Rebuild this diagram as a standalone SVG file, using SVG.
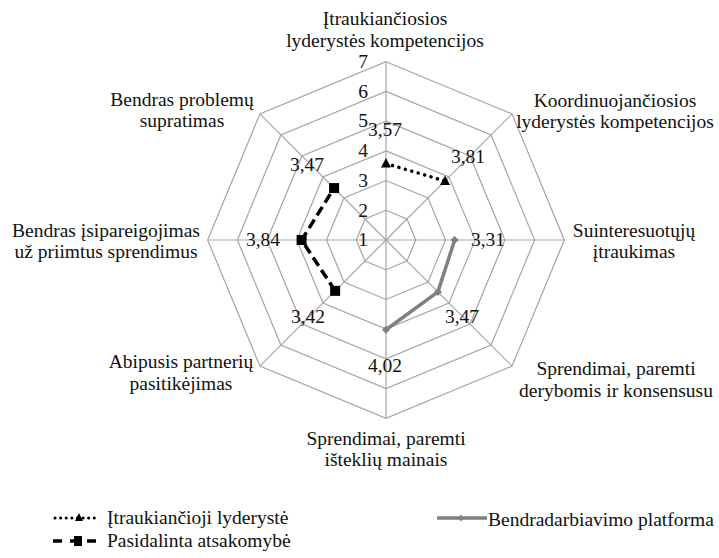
<svg xmlns="http://www.w3.org/2000/svg" width="719" height="558" viewBox="0 0 719 558" font-family="'Times New Roman', 'Liberation Serif', Tinos, 'Noto Serif', 'DejaVu Serif', serif">
  <style>
    text { font-size: 19.5px; fill: #111; }
    .cat { text-anchor: middle; }
    .val { text-anchor: middle; }
    .tick { text-anchor: end; }
    .ring { fill: none; stroke: #a6a6a6; stroke-width: 1.2; }
    .spoke { stroke: #a6a6a6; stroke-width: 1.2; }
    .s-incl { fill: none; stroke: #000; stroke-width: 3.5; stroke-linecap: round; stroke-dasharray: 0.1 6.6; }
    .s-plat { fill: none; stroke: #808080; stroke-width: 3.5; stroke-linejoin: round; }
    .s-resp { fill: none; stroke: #000; stroke-width: 3.5; stroke-dasharray: 10 5; stroke-linejoin: round; }
  </style>
  <defs>
    <path id="tri" d="M0,-6 L5,3.5 L-5,3.5 Z" fill="#000"/>
    <rect id="sq" x="-5" y="-5" width="10" height="10" fill="#000"/>
    <path id="dia" d="M0,-4 L4,0 L0,4 L-4,0 Z" fill="#808080"/>
  </defs>
  <rect width="719" height="558" fill="#fff"/>

  <!-- radar grid: six octagonal rings and eight spokes around (386,240) -->
  <g id="grid">
    <polygon class="ring" points="386,210.28 407.02,218.98 415.72,240 407.02,261.02 386,269.72 364.98,261.02 356.28,240 364.98,218.98"/>
    <polygon class="ring" points="386,180.56 428.03,197.97 445.44,240 428.03,282.03 386,299.44 343.97,282.03 326.56,240 343.97,197.97"/>
    <polygon class="ring" points="386,150.84 449.05,176.95 475.16,240 449.05,303.05 386,329.16 322.95,303.05 296.84,240 322.95,176.95"/>
    <polygon class="ring" points="386,121.12 470.06,155.94 504.88,240 470.06,324.06 386,358.88 301.94,324.06 267.12,240 301.94,155.94"/>
    <polygon class="ring" points="386,91.4 491.08,134.92 534.6,240 491.08,345.08 386,388.6 280.92,345.08 237.4,240 280.92,134.92"/>
    <polygon class="ring" points="386,61.68 512.09,113.91 564.32,240 512.09,366.09 386,418.32 259.91,366.09 207.68,240 259.91,113.91"/>
    <line class="spoke" x1="386" y1="240" x2="386" y2="61.68"/>
    <line class="spoke" x1="386" y1="240" x2="512.09" y2="113.91"/>
    <line class="spoke" x1="386" y1="240" x2="564.32" y2="240"/>
    <line class="spoke" x1="386" y1="240" x2="512.09" y2="366.09"/>
    <line class="spoke" x1="386" y1="240" x2="386" y2="418.32"/>
    <line class="spoke" x1="386" y1="240" x2="259.91" y2="366.09"/>
    <line class="spoke" x1="386" y1="240" x2="207.68" y2="240"/>
    <line class="spoke" x1="386" y1="240" x2="259.91" y2="113.91"/>
  </g>

  <!-- scale values along the vertical axis -->
  <g id="scale">
    <text class="tick" x="368" y="68">7</text>
    <text class="tick" x="368" y="97.5">6</text>
    <text class="tick" x="368" y="127">5</text>
    <text class="tick" x="368" y="157">4</text>
    <text class="tick" x="368" y="187">3</text>
    <text class="tick" x="368" y="216.5">2</text>
    <text class="tick" x="368" y="246">1</text>
  </g>

  <!-- category labels -->
  <g id="axis-top"><text class="cat" x="385" y="25">Įtraukiančiosios</text><text class="cat" x="385" y="47">lyderystės kompetencijos</text></g>
  <g id="axis-top-right"><text class="cat" x="615" y="107">Koordinuojančiosios</text><text class="cat" x="615" y="128">lyderystės kompetencijos</text></g>
  <g id="axis-right"><text class="cat" x="634" y="237">Suinteresuotųjų</text><text class="cat" x="634" y="258">įtraukimas</text></g>
  <g id="axis-bottom-right"><text class="cat" x="616" y="375">Sprendimai, paremti</text><text class="cat" x="616" y="397">derybomis ir konsensusu</text></g>
  <g id="axis-bottom"><text class="cat" x="386" y="445">Sprendimai, paremti</text><text class="cat" x="386" y="466">išteklių mainais</text></g>
  <g id="axis-bottom-left"><text class="cat" x="181" y="368">Abipusis partnerių</text><text class="cat" x="181" y="390">pasitikėjimas</text></g>
  <g id="axis-left"><text class="cat" x="106" y="237">Bendras įsipareigojimas</text><text class="cat" x="106" y="258">už priimtus sprendimus</text></g>
  <g id="axis-top-left"><text class="cat" x="182" y="106">Bendras problemų</text><text class="cat" x="182" y="127">supratimas</text></g>

  <!-- data series -->
  <g id="connectors">
    <polyline class="s-incl" points="386,163.62 445.05,180.95"/>
    <polyline class="s-plat" points="454.65,240 437.91,291.91 386,329.75"/>
    <polyline class="s-resp" points="335.14,290.86 301.6,240 334.09,188.09"/>
  </g>

  <g id="series-inclusive">
    <use href="#tri" x="386" y="164"/>
    <use href="#tri" x="445.05" y="181.5"/>
    <text class="val" x="385" y="136">3,57</text>
    <text class="val" x="468" y="163">3,81</text>
  </g>
  <g id="series-platform">
    <use href="#dia" x="454.65" y="240"/>
    <use href="#dia" x="437.91" y="291.91"/>
    <use href="#dia" x="386" y="329.75"/>
    <text class="val" x="488" y="246">3,31</text>
    <text class="val" x="462" y="323">3,47</text>
    <text class="val" x="385" y="372">4,02</text>
  </g>
  <g id="series-responsibility">
    <use href="#sq" x="335.14" y="290.86"/>
    <use href="#sq" x="301.6" y="240"/>
    <use href="#sq" x="334.09" y="188.09"/>
    <text class="val" x="308" y="323">3,42</text>
    <text class="val" x="263" y="246">3,84</text>
    <text class="val" x="307" y="171">3,47</text>
  </g>

  <!-- legend -->
  <g id="legend">
    <line class="s-incl" x1="55" y1="518" x2="97" y2="518" style="stroke-width:3;stroke-dasharray:0.1 5.5"/>
    <path d="M0,-5 L4,3 L-4,3 Z" transform="translate(79,518)" fill="#000"/>
    <text x="107" y="524">Įtraukiančioji lyderystė</text>
    <line x1="53" y1="541" x2="98" y2="541" stroke="#000" stroke-width="3.5" stroke-dasharray="9 8"/>
    <rect x="74" y="536" width="8" height="10" fill="#000"/>
    <text x="107" y="547">Pasidalinta atsakomybė</text>
    <line x1="437" y1="518" x2="487" y2="518" stroke="#808080" stroke-width="3.5"/>
    <path d="M0,-3.5 L3,0 L0,3.5 L-3,0 Z" transform="translate(461,518)" fill="#808080"/>
    <text x="488" y="526">Bendradarbiavimo platforma</text>
  </g>
</svg>
